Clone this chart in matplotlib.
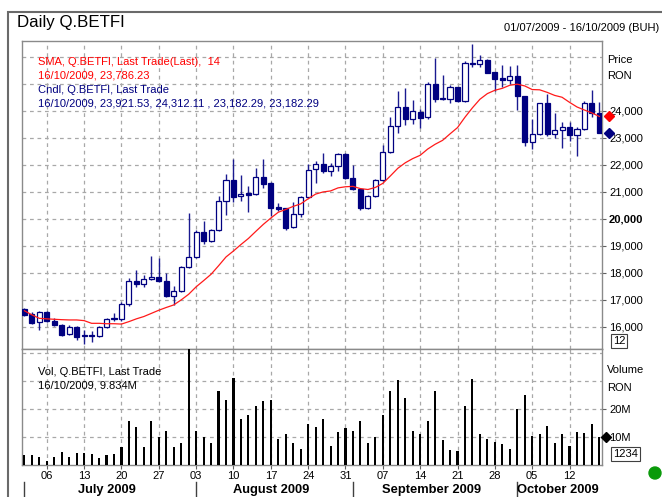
import matplotlib
matplotlib.use('Agg')
import matplotlib.pyplot as plt
import matplotlib.transforms as mtransforms
from matplotlib.patches import Rectangle, Ellipse
import numpy as np

plt.rcParams['font.family'] = ['Liberation Sans', 'DejaVu Sans']

# ---------------- data ----------------
opens = [16650,16460,16190,16550,16225,16060,15725,16000,15670,15660,
         15650,15975,16310,16275,16840,17710,17590,17750,17840,17700,
         17130,17313,18209,18577,19497,19190,19583,20663,21423,20834,
         20957,20908,21546,21325,20417,20380,19681,20172,20810,21830,
         22027,21781,21941,22396,21510,21117,20379,20834,21449,22470,
         23447,24152,23674,23968,23748,25000,24478,24430,24876,24360,
         25770,25718,25878,25430,25200,25145,25280,24545,22830,23135,
         24290,23135,23290,23405,23110,23320,24275,23921.53]
highs = [16690,16530,16590,16590,16310,16100,16050,16025,15875,15850,
         16025,16310,16525,16900,17810,18100,17900,18600,18560,17990,
         17497,18233,20196,19583,19914,19607,20834,21669,22220,21607,
         21202,21890,22220,21362,20590,20405,20626,20834,22012,22130,
         22433,22064,22433,22433,22003,21141,20859,21474,22741,23749,
         24723,24834,24410,24048,25055,25950,25325,24945,24890,25845,
         26478,26049,25902,25440,25710,25650,25680,24560,23685,24300,
         24630,23920,23580,23595,23410,24370,24780,24312.11]
lows = [16400,16100,15875,16170,16025,15650,15700,15500,15375,15425,
        15600,15940,16225,16225,16775,17475,17475,17725,17650,17100,
        16822,17288,18184,18540,19067,19153,19558,20123,20626,20663,
        20245,20871,21141,20098,20294,19583,19644,20049,20785,21310,
        21695,21597,21781,21474,21080,20317,20342,20809,21388,22433,
        23171,23478,23496,23343,23710,24305,24385,24295,24325,24325,
        25633,25620,25388,24740,24860,24985,24020,22705,22585,23110,
        23060,22985,22630,22870,22340,23295,23750,23182.29]
closes = [16440,16150,16550,16210,16060,15690,16000,15600,15650,15650,
          15975,16275,16275,16840,17710,17590,17750,17840,17690,17130,
          17313,18209,18577,19497,19190,19583,20663,21423,20810,20932,
          20896,21546,21300,20380,20343,19644,20172,20810,21816,22020,
          21781,21941,22396,21510,21105,20379,20834,21449,22470,23447,
          24152,23674,23987,23747,25000,24440,24423,24876,24360,25750,
          25718,25878,25412,25170,25150,25280,24545,22830,23135,24290,
          23120,23295,23405,23105,23320,24275,23910,23182.29]
sma14 = [16590,16440,16310,16290,16275,16260,16250,16250,16225,16125,
         16125,16110,16110,16097,16188,16291,16377,16493,16610,16712,
         16806,16993,17202,17477,17706,17942,18256,18583,18805,19043,
         19268,19533,19791,20023,20239,20342,20456,20549,20737,20911,
         20991,21028,21141,21183,21197,21114,21081,21157,21309,21581,
         21865,22070,22225,22348,22578,22756,22901,23142,23374,23758,
         24107,24423,24633,24756,24828,24942,24982,24917,24783,24773,
         24680,24567,24498,24310,24138,24024,23916,23786.23]
volume_m = [3.7,3.5,2.8,1.5,2.8,4.7,2.8,4.3,4.3,4.0,
            2.5,3.7,4.0,6.5,15.6,13.6,6.3,15.8,9.9,12.1,
            6.3,7.8,41.5,12.1,9.9,7.8,26.5,23.2,31.1,16.3,
            17.7,21.1,22.8,23.2,9.4,11.1,8.0,5.6,14.6,13.6,
            16.3,6.9,11.9,13.1,12.0,15.6,7.8,9.9,17.7,26.3,
            30.2,23.8,12.1,10.9,15.8,26.5,8.9,5.4,4.9,21.1,
            30.6,11.1,9.4,8.1,7.4,5.6,19.9,25.1,10.4,11.1,
            13.8,7.8,10.9,6.7,11.9,11.4,14.6,9.834]

week_tick_idx = [3, 8, 13, 18, 23, 28, 33, 38, 43, 48, 53, 58, 63, 68, 73]
week_tick_labels = ['06', '13', '20', '27', '03', '10', '17', '24', '31',
                    '07', '14', '21', '28', '05', '12']
month_start_idx = [0, 23, 44, 66]
month_labels = ['July 2009', 'August 2009', 'September 2009', 'October 2009']
price_ticks = [16000, 17000, 18000, 19000, 20000, 21000, 22000, 23000, 24000]
price_grid = [16000, 17000, 18000, 19000, 20000, 21000, 22000, 23000,
              24000, 25000, 26000]
vol_ticks = [10, 20]
vol_tick_labels = ['10M', '20M']
vol_grid = [10, 20, 30, 40]

legend_sma = ['SMA, Q.BETFI, Last Trade(Last),  14', '16/10/2009, 23,786.23']
legend_cndl = ['Cndl, Q.BETFI, Last Trade',
               '16/10/2009, 23,921.53, 24,312.11 , 23,182.29, 23,182.29']
legend_vol = ['Vol, Q.BETFI, Last Trade', '16/10/2009, 9.834M']

# ---------------- layout ----------------
W, H = 662, 497
fig = plt.figure(figsize=(W / 100, H / 100), dpi=100)
fig.patch.set_facecolor('white')


def fx(px):
    return px / W


def fy(py):
    return 1 - py / H


L, R = 22, 602
P_TOP, SPLIT, V_BOT = 41, 349, 465
ax = fig.add_axes([fx(L), fy(SPLIT), fx(R) - fx(L), fy(P_TOP) - fy(SPLIT)])
axv = fig.add_axes([fx(L), fy(V_BOT), fx(R) - fx(L), fy(SPLIT) - fy(V_BOT)])

navy = '#000080'
grid_c = '#a8a8a8'
spine_c = '#8a8a8a'
LEG_FS = 8
TICK_FS = 8

x = np.arange(len(closes))
xlim = (-0.32, 77.35)

# ---------------- price panel ----------------
ax.set_xlim(*xlim)
ax.set_ylim(15174, 26581)
for g in price_grid:
    ax.axhline(g, color=grid_c, lw=0.9, ls=(0, (3, 3)), zorder=0)
for t in week_tick_idx:
    ax.axvline(t, color=grid_c, lw=0.9, ls=(0, (3, 3)), zorder=0)

o = np.array(opens); c = np.array(closes)
h = np.array(highs); l = np.array(lows)
bottoms = np.minimum(o, c)
heights = np.maximum(np.abs(c - o), 25)
faces = [navy if cc < oo else 'white' for oo, cc in zip(o, c)]
ax.vlines(x, l, h, color='#1a1a90', lw=1.0, zorder=2)
ax.bar(x, heights, bottom=bottoms, width=0.68, color=faces,
       edgecolor=navy, linewidth=0.9, zorder=3)
ax.plot(x, sma14, color='#ff1a1a', lw=0.9, zorder=4)

ax.yaxis.tick_right()
ax.set_yticks(price_ticks)
ax.set_yticklabels([f'{v:,}' for v in price_ticks])
for lab, v in zip(ax.get_yticklabels(), price_ticks):
    if v == 20000:
        lab.set_fontweight('bold')
        lab.set_fontsize(9)
ax.tick_params(axis='y', direction='out', length=3, pad=2, labelsize=TICK_FS,
               color='#606060', labelcolor='black')
ax.set_xticks([])
for s in ax.spines.values():
    s.set_color(spine_c)
    s.set_linewidth(1.0)

bt = mtransforms.blended_transform_factory(ax.transAxes, ax.transData)
ax.plot([1.0 + 7 / 580], [sma14[-1]], marker='D', color='red', ms=5,
        transform=bt, clip_on=False, zorder=6)
ax.plot([1.0 + 7 / 580], [closes[-1]], marker='D', color=navy, ms=5.5,
        transform=bt, clip_on=False, zorder=6)

ph = SPLIT - P_TOP
for i, (txt, col) in enumerate(zip(legend_sma + legend_cndl,
                                   ['red', 'red', navy, navy])):
    ax.text((38 - L) / 580, (SPLIT - (62 + 14 * i)) / ph, txt, color=col,
            fontsize=LEG_FS, va='center', ha='left', transform=ax.transAxes)

# ---------------- volume panel ----------------
axv.set_xlim(*xlim)
axv.set_ylim(0, 41.4)
for g in vol_grid:
    axv.axhline(g, color=grid_c, lw=0.9, ls=(0, (3, 3)), zorder=0)
for t in week_tick_idx:
    axv.axvline(t, color=grid_c, lw=0.9, ls=(0, (3, 3)), zorder=0)
axv.bar(x, volume_m, width=0.28, color='black', zorder=3)

axv.yaxis.tick_right()
axv.set_yticks(vol_ticks)
axv.set_yticklabels(vol_tick_labels)
axv.tick_params(axis='y', direction='out', length=3, pad=2, labelsize=TICK_FS,
                color='#606060')
axv.set_xticks(week_tick_idx)
axv.set_xticklabels(week_tick_labels)
axv.tick_params(axis='x', direction='out', length=3, pad=1.5, labelsize=TICK_FS,
                color='#606060')
for s in axv.spines.values():
    s.set_color(spine_c)
    s.set_linewidth(1.0)

vh = V_BOT - SPLIT
for i, txt in enumerate(legend_vol):
    axv.text((38 - L) / 580, (V_BOT - (372 + 14 * i)) / vh, txt,
             color='black', fontsize=LEG_FS, va='center', ha='left',
             transform=axv.transAxes)

btv = mtransforms.blended_transform_factory(axv.transAxes, axv.transData)
axv.plot([1.0 + 4 / 580], [volume_m[-1]], marker='D', color='black', ms=5,
         transform=btv, clip_on=False, zorder=6)

# month labels and separators
bx = mtransforms.blended_transform_factory(axv.transData, axv.transAxes)
ends = month_start_idx[1:] + [len(closes)]
for s, e, lab in zip(month_start_idx, ends, month_labels):
    axv.plot([s, s], [(V_BOT - 482) / vh, (V_BOT - 497) / vh], color='#404040',
             lw=1, transform=bx, clip_on=False)
    axv.text((s + e - 1) / 2, (V_BOT - 490) / vh, lab, ha='center',
             va='center', fontsize=9.3, fontweight='bold', transform=bx)

# ---------------- decorations ----------------
fig.add_artist(Rectangle((fx(8), -0.02), 1.2, fy(12) + 0.02,
                         transform=fig.transFigure, fill=False,
                         edgecolor='#6a6a6a', lw=1.5))
fig.text(fx(17), fy(22), 'Daily Q.BETFI', fontsize=12.2, va='center', ha='left')
fig.text(fx(659), fy(28), '01/07/2009 - 16/10/2009 (BUH)', fontsize=8,
         va='center', ha='right')
fig.text(fx(607), fy(60), 'Price', fontsize=TICK_FS, va='center', ha='left')
fig.text(fx(607), fy(76), 'RON', fontsize=TICK_FS, va='center', ha='left')
fig.text(fx(607), fy(370), 'Volume', fontsize=TICK_FS, va='center', ha='left')
fig.text(fx(607), fy(388), 'RON', fontsize=TICK_FS, va='center', ha='left')
fig.text(fx(613), fy(341), '12', fontsize=TICK_FS, va='center', ha='left',
         bbox=dict(boxstyle='square,pad=0.15', fc='white', ec='#404040', lw=0.8))
fig.text(fx(613), fy(454), '1234', fontsize=TICK_FS, va='center', ha='left',
         bbox=dict(boxstyle='square,pad=0.15', fc='white', ec='#404040', lw=0.8))
fig.add_artist(Ellipse((fx(655), fy(473)), 12 / W, 12 / H,
                       transform=fig.transFigure, color='#0a9a0a'))

fig.savefig('out.png', dpi=100)
